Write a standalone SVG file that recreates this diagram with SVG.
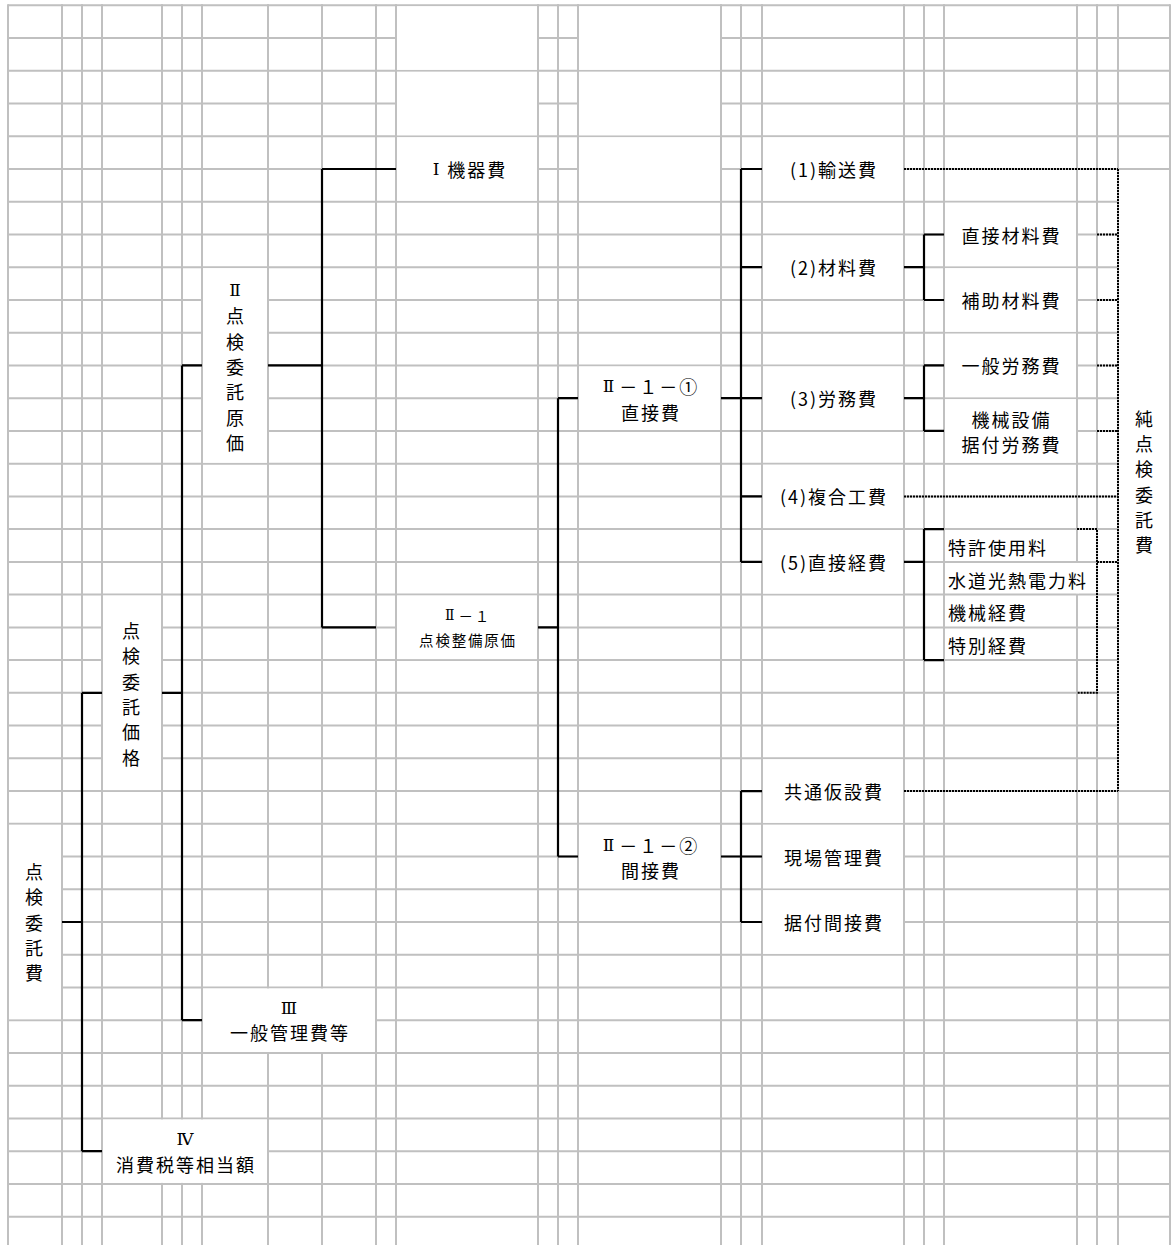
<svg xmlns="http://www.w3.org/2000/svg" width="1173" height="1245" viewBox="0 0 1173 1245">
<style>
.grid{stroke:#c0c0c0;stroke-width:2;fill:none}
.cell{fill:#fff;stroke:none}
.con{stroke:#000;stroke-width:2.2;fill:none}
.dot{stroke:#000;stroke-width:2;fill:none;stroke-dasharray:2 1}
text{font-family:"Noto Sans CJK JP","Noto Sans CJK SC",sans-serif;font-size:18px;letter-spacing:2px;fill:#000;dominant-baseline:central}
.m{text-anchor:middle}
.s{font-size:14.5px;letter-spacing:1.8px}
.v{text-anchor:middle;letter-spacing:0}
.r{font-family:"DejaVu Serif","Liberation Serif",serif;font-size:17px}
</style>
<rect width="1173" height="1245" fill="#fff"/>
<g id="grid">
<path class="grid" d="M8 5.3H1170M8 38H1170M8 70.8H1170M8 103.5H1170M8 136.3H1170M8 169H1170M8 201.7H1170M8 234.5H1170M8 267.2H1170M8 300H1170M8 332.7H1170M8 365.4H1170M8 398.2H1170M8 430.9H1170M8 463.7H1170M8 496.4H1170M8 529.1H1170M8 561.9H1170M8 594.6H1170M8 627.4H1170M8 660.1H1170M8 692.8H1170M8 725.6H1170M8 758.3H1170M8 791.1H1170M8 823.8H1170M8 856.5H1170M8 889.3H1170M8 922H1170M8 954.8H1170M8 987.5H1170M8 1020.2H1170M8 1053H1170M8 1085.7H1170M8 1118.5H1170M8 1151.2H1170M8 1183.9H1170M8 1216.7H1170"/>
<path class="grid" d="M8 4.3V1245M62 4.3V1245M82 4.3V1245M102 4.3V1245M162 4.3V1245M182 4.3V1245M202 4.3V1245M268 4.3V1245M322 4.3V1245M376 4.3V1245M396 4.3V1245M538 4.3V1245M558 4.3V1245M578 4.3V1245M721 4.3V1245M741 4.3V1245M762 4.3V1245M904 4.3V1245M924 4.3V1245M944 4.3V1245M1077 4.3V1245M1097 4.3V1245M1118 4.3V1245M1170 4.3V1245"/>
<rect class="cell" x="397" y="6.3" width="140" height="63.5"/>
<rect class="cell" x="397" y="71.8" width="140" height="63.5"/>
<rect class="cell" x="579" y="6.3" width="141" height="63.5"/>
<rect class="cell" x="579" y="71.8" width="141" height="63.5"/>
<rect class="cell" x="579" y="137.3" width="141" height="63.4"/>
<rect class="cell" x="1076" y="563" width="2.5" height="30.6"/>
</g>
<g id="connectors">
<path class="con" d="M62 922H82M82 692.8V1151.2M82 692.8H102M82 1151.2H102M162 692.8H182M182 365.4V1020.2M182 365.4H202M182 1020.2H202M268 365.4H322M322 169V627.4M322 169H396M322 627.4H376M538 627.4H558M558 398.2V856.5M558 398.2H578M558 856.5H578M721 398.2H741M741 169V561.9M741 169H762M741 267.2H762M741 398.2H762M741 496.4H762M741 561.9H762M904 267.2H924M924 234.5V300M924 234.5H944M924 300H944M904 398.2H924M924 365.4V430.9M924 365.4H944M924 430.9H944M904 561.9H924M924 529.1V660.1M924 529.1H944M924 660.1H944M721 856.5H741M741 791.1V922M741 791.1H762M741 856.5H762M741 922H762"/>
<path class="dot" d="M904 169H1118M1097 234.5H1118M1097 300H1118M1097 365.4H1118M1097 430.9H1118M904 496.4H1118M1077 529.1H1097V692.8H1077M1097 561.9H1118M904 791.1H1118M1118 169V791.1"/>
</g>
<g id="n-kiki"><rect class="cell" x="397" y="137.3" width="140" height="63.4"/><text class="m" x="470" y="169"><tspan class="r" style="letter-spacing:8px">Ⅰ</tspan>機器費</text></g>
<g id="n-yuso"><rect class="cell" x="763" y="137.3" width="140" height="63.4"/><text class="m" x="834" y="169">(1)輸送費</text></g>
<g id="n-zairyo"><rect class="cell" x="763" y="235.5" width="140" height="63.5"/><text class="m" x="834" y="267.2">(2)材料費</text></g>
<g id="n-romu"><rect class="cell" x="763" y="366.4" width="140" height="63.5"/><text class="m" x="834" y="398.2">(3)労務費</text></g>
<g id="n-fukugo"><rect class="cell" x="763" y="464.7" width="140" height="63.4"/><text class="m" x="834" y="496.4">(4)複合工費</text></g>
<g id="n-chokukei"><rect class="cell" x="763" y="530.1" width="140" height="63.5"/><text class="m" x="834" y="561.9">(5)直接経費</text></g>
<g id="n-kyotsu"><rect class="cell" x="763" y="759.3" width="140" height="63.5"/><text class="m" x="834" y="791.1">共通仮設費</text></g>
<g id="n-genba"><rect class="cell" x="763" y="824.8" width="140" height="63.5"/><text class="m" x="834" y="856.5">現場管理費</text></g>
<g id="n-suetsuke"><rect class="cell" x="763" y="890.3" width="140" height="63.5"/><text class="m" x="834" y="922">据付間接費</text></g>
<g id="n-chokuzai"><rect class="cell" x="945" y="202.7" width="131" height="63.5"/><text class="m" x="1011.5" y="234.5">直接材料費</text></g>
<g id="n-hojo"><rect class="cell" x="945" y="268.2" width="131" height="63.5"/><text class="m" x="1011.5" y="300">補助材料費</text></g>
<g id="n-ippan"><rect class="cell" x="945" y="333.7" width="131" height="63.5"/><text class="m" x="1011.5" y="365.4">一般労務費</text></g>
<g id="n-kikai"><rect class="cell" x="945" y="399.2" width="131" height="63.5"/><text class="m" x="1011.5" y="419">機械設備</text><text class="m" x="1011.5" y="444">据付労務費</text></g>
<g id="n-tokkyo"><text x="948" y="547">特許使用料</text></g>
<g id="n-suido"><text x="948" y="579.5">水道光熱電力料</text></g>
<g id="n-kikaikei"><text x="948" y="612">機械経費</text></g>
<g id="n-tokubetsu"><text x="948" y="645">特別経費</text></g>
<g id="n-jun"><rect class="cell" x="1119" y="170" width="50" height="620.1"/><text class="v"><tspan x="1144" y="418">純</tspan><tspan x="1144" y="443.2">点</tspan><tspan x="1144" y="468.4">検</tspan><tspan x="1144" y="493.6">委</tspan><tspan x="1144" y="518.8">託</tspan><tspan x="1144" y="544">費</tspan></text></g>
<g id="n-chokusetsu"><rect class="cell" x="579" y="366.4" width="141" height="63.5"/><text class="m" x="651" y="386"><tspan class="r" style="letter-spacing:5px">Ⅱ</tspan>－１－①</text><text class="m" x="651" y="411.5">直接費</text></g>
<g id="n-kansetsu"><rect class="cell" x="579" y="824.8" width="141" height="63.5"/><text class="m" x="651" y="845"><tspan class="r" style="letter-spacing:5px">Ⅱ</tspan>－１－②</text><text class="m" x="651" y="870">間接費</text></g>
<g id="n-seibi"><rect class="cell" x="397" y="595.6" width="140" height="63.5"/><text class="m s" x="468" y="615"><tspan class="r" style="font-size:14px;letter-spacing:4px">Ⅱ</tspan>－１</text><text class="m s" x="468" y="639.5">点検整備原価</text></g>
<g id="n-genka"><rect class="cell" x="203" y="268.2" width="64" height="194.5"/><text class="v"><tspan class="r" x="235" y="290">Ⅱ</tspan><tspan x="235" y="315.3">点</tspan><tspan x="235" y="340.6">検</tspan><tspan x="235" y="365.9">委</tspan><tspan x="235" y="391.2">託</tspan><tspan x="235" y="416.5">原</tspan><tspan x="235" y="441.8">価</tspan></text></g>
<g id="n-kakaku"><rect class="cell" x="103" y="595.6" width="58" height="194.5"/><text class="v"><tspan x="131" y="630">点</tspan><tspan x="131" y="655.3">検</tspan><tspan x="131" y="680.6">委</tspan><tspan x="131" y="705.9">託</tspan><tspan x="131" y="731.2">価</tspan><tspan x="131" y="756.5">格</tspan></text></g>
<g id="n-itakuhi"><rect class="cell" x="9" y="824.8" width="52" height="194.4"/><text class="v"><tspan x="34" y="871">点</tspan><tspan x="34" y="896.3">検</tspan><tspan x="34" y="921.6">委</tspan><tspan x="34" y="946.9">託</tspan><tspan x="34" y="972.2">費</tspan></text></g>
<g id="n-kanri"><rect class="cell" x="203" y="988.5" width="172" height="63.5"/><text class="m" x="290" y="1008"><tspan class="r">Ⅲ</tspan></text><text class="m" x="290" y="1032">一般管理費等</text></g>
<g id="n-shohizei"><rect class="cell" x="103" y="1119.5" width="164" height="63.4"/><text class="m" x="186" y="1139"><tspan class="r">Ⅳ</tspan></text><text class="m" x="186" y="1164">消費税等相当額</text></g>
</svg>
